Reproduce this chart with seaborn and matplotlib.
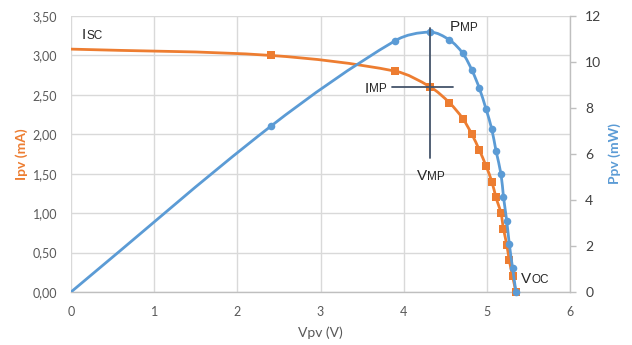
import numpy as np
import matplotlib
matplotlib.use("Agg")
import matplotlib.pyplot as plt
from matplotlib.path import Path
from matplotlib.patches import PathPatch
import seaborn as sns

# ---- data ----
vpv = [0.00, 2.40, 3.90, 4.32, 4.55, 4.71, 4.82, 4.91, 4.99, 5.06, 5.11, 5.17, 5.20, 5.24, 5.27, 5.31, 5.35]
ipv = [3.08, 3.00, 2.80, 2.60, 2.40, 2.20, 2.00, 1.80, 1.60, 1.40, 1.20, 1.00, 0.80, 0.60, 0.40, 0.20, 0.00]
ppv = [0.00, 7.20, 10.93, 11.30, 10.96, 10.38, 9.65, 8.86, 7.96, 7.07, 6.14, 5.13, 4.14, 3.07, 2.09, 1.03, 0.00]

x_ticks = [0, 1, 2, 3, 4, 5, 6]
i_ticks = [0.0, 0.5, 1.0, 1.5, 2.0, 2.5, 3.0, 3.5]
p_ticks = [0, 2, 4, 6, 8, 10, 12]

mpp_v = 4.32
mpp_i = 2.60

ORANGE = "#ED7D31"
BLUE = "#5B9BD5"
CROSS = "#44546A"
GRID = "#D9D9D9"
AXIS = "#BFBFBF"
TICK = "#595959"

sns.set_theme(style="white")
plt.rcParams["font.family"] = ["Lato", "DejaVu Sans"]


def smooth_path(xs, ys, sx, sy):
    """Bezier path through the data points; tangents weighted by on-screen segment lengths."""
    pts = np.column_stack([xs, ys]).astype(float)
    scale = np.array([sx, sy])
    n = len(pts)

    def dist(a, b):
        return float(np.hypot(*((b - a) * scale)))

    verts = [pts[0]]
    codes = [Path.MOVETO]
    for k in range(n - 1):
        p0 = pts[k - 1] if k > 0 else pts[k]
        p1 = pts[k]
        p2 = pts[k + 1]
        p3 = pts[k + 2] if k + 2 < n else pts[k + 1]
        d01, d12, d23 = dist(p0, p1), dist(p1, p2), dist(p2, p3)
        f1 = d12 / (d01 + d12) / 3.0 if d01 + d12 > 0 else 0
        f2 = d12 / (d12 + d23) / 3.0 if d12 + d23 > 0 else 0
        c1 = p1 + (p2 - p0) * f1
        c2 = p2 - (p3 - p1) * f2
        verts += [c1, c2, p2]
        codes += [Path.CURVE4] * 3
    return Path(verts, codes)


fig = plt.figure(figsize=(6.32, 3.45), dpi=100)
ax = fig.add_axes([71 / 632, 53 / 345, 499 / 632, 276 / 345])
ax2 = ax.twinx()

# grid / axes styling
ax.set_xlim(0, 6)
ax.set_ylim(0, 3.5)
ax.set_xticks(x_ticks)
ax.set_yticks(i_ticks)
ax.set_yticklabels([f"{t:.2f}".replace(".", ",") for t in i_ticks])
ax.grid(True, color=GRID, linewidth=1.0)
ax.set_axisbelow(True)
for s in ["left", "top", "right"]:
    ax.spines[s].set_visible(False)
ax.spines["bottom"].set_color(AXIS)
ax.spines["bottom"].set_linewidth(1.0)
ax.tick_params(axis="both", length=0, colors=TICK, labelsize=9)
ax.tick_params(axis="y", pad=10)
ax.tick_params(axis="x", pad=10)
ax.set_xlabel("Vpv (V)", color=TICK, fontsize=10, labelpad=6)
ax.set_ylabel("Ipv (mA)", color=ORANGE, fontsize=10, fontweight="bold", labelpad=3)

ax2.set_ylim(0, 12)
ax2.set_yticks(p_ticks)
ax2.grid(False)
for s in ["left", "top", "bottom"]:
    ax2.spines[s].set_visible(False)
ax2.spines["right"].set_color(AXIS)
ax2.spines["right"].set_linewidth(1.0)
ax2.tick_params(axis="y", length=4, width=1, color=AXIS, colors="#404040", labelsize=10, pad=7)
ax2.tick_params(axis="y", color=AXIS)
ax2.set_ylabel("Ppv (mW)", color=BLUE, fontsize=10, fontweight="bold", labelpad=5)

# pixel scale of one data unit on each axis
sx = 499 / 6.0
sy_i = 276 / 3.5
sy_p = 276 / 12.0

# current curve (left axis)
ax.add_patch(PathPatch(smooth_path(vpv, ipv, sx, sy_i), facecolor="none", edgecolor=ORANGE,
                       linewidth=2.0, capstyle="round", joinstyle="round", zorder=3))
sns.scatterplot(x=vpv[1:], y=ipv[1:], marker="s", color=ORANGE, s=30, linewidth=0,
                ax=ax, zorder=4, clip_on=False)

# power curve (right axis)
ax2.add_patch(PathPatch(smooth_path(vpv, ppv, sx, sy_p), facecolor="none", edgecolor=BLUE,
                        linewidth=2.0, capstyle="round", joinstyle="round", zorder=3))
sns.scatterplot(x=vpv[1:], y=ppv[1:], marker="o", color=BLUE, s=30, linewidth=0,
                ax=ax2, zorder=4, clip_on=False)

# MPP crosshair (in left-axis coordinates)
ax2.plot([mpp_v, mpp_v], [1.70, 3.35], color=CROSS, linewidth=1.3, transform=ax.transData, zorder=5)
ax2.plot([3.86, 4.59], [mpp_i, mpp_i], color=CROSS, linewidth=1.3, transform=ax.transData, zorder=5)


def label(x, y, big, small):
    t1 = ax2.text(x, y, big, transform=ax.transData, fontsize=11, color="#262626",
                  family=["Liberation Sans"], ha="left", va="bottom", zorder=6)
    ax2.annotate(small, xy=(1, 0), xycoords=t1, xytext=(0, 0.3), textcoords="offset points",
                 fontsize=8.5, color="#262626", family=["Liberation Sans"],
                 ha="left", va="bottom", zorder=6)


label(0.13, 3.17, "I", "SC")
label(4.555, 3.27, "P", "MP")
label(3.53, 2.49, "I", "MP")
label(4.16, 1.38, "V", "MP")
label(5.41, 0.075, "V", "OC")

fig.savefig("out.png", dpi=100)
